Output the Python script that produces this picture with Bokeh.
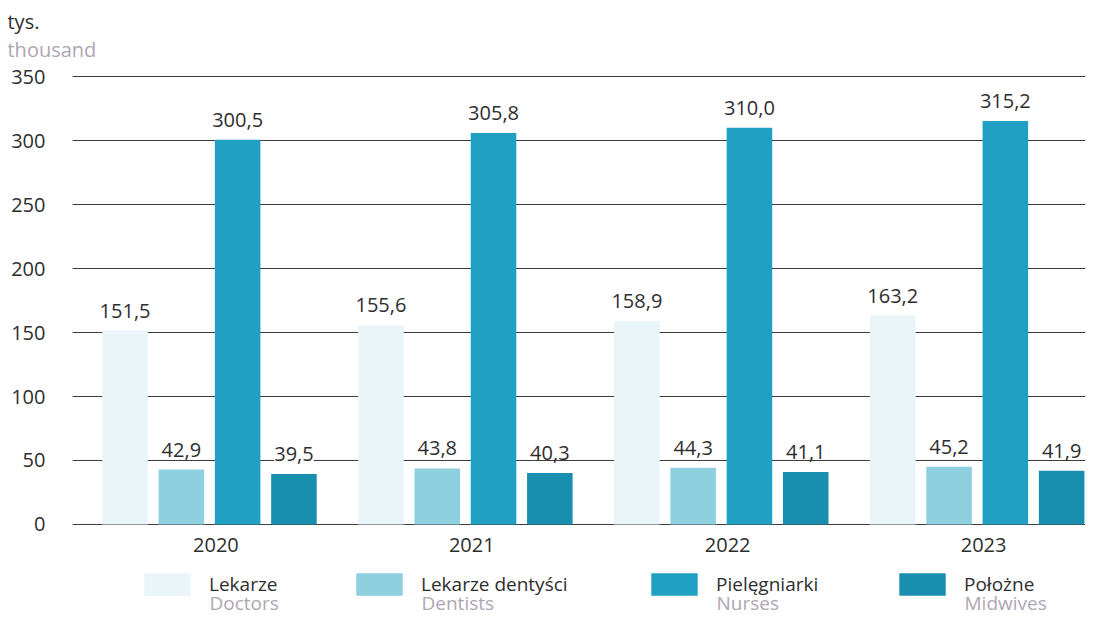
from bokeh.plotting import figure
from bokeh.models import (Range1d, FixedTicker, CustomJSTickFormatter, Legend,
                          LegendItem, Label, ColumnDataSource, LinearAxis)
from bokeh.core.properties import value
from bokeh.embed import file_html
from bokeh.resources import INLINE

# ---- data ----
years = ["2020", "2021", "2022", "2023"]
series_pl = ["Lekarze", "Lekarze dentyści", "Pielęgniarki", "Położne"]
series_en = ["Doctors", "Dentists", "Nurses", "Midwives"]
doctors = [151.5, 155.6, 158.9, 163.2]
dentists = [42.9, 43.8, 44.3, 45.2]
nurses = [300.5, 305.8, 310.0, 315.2]
midwives = [39.5, 40.3, 41.1, 41.9]
y_ticks = [0, 50, 100, 150, 200, 250, 300, 350]

# ---- style ----
FONT = "Open Sans"
FS = "20px"
LFS = "19px"
colors = ["#e9f5f8", "#8ecfe0", "#20a0c2", "#1a8eae"]
offsets = [-0.33, -0.11, 0.11, 0.33]
bar_w = 0.178
dark = "#2e2e2e"
light = "#b0a6b3"
AXIS_X = -0.512      # where the value axis sits (data units)
GRID_X0 = -0.535
X_END = 3.4232

p = figure(width=1085, height=618,
           x_range=Range1d(-0.8167, X_END), y_range=Range1d(-73.44, 409.38),
           output_backend="svg", toolbar_location=None,
           x_axis_location=None, y_axis_location=None,
           min_border_left=0, min_border_right=0,
           min_border_top=0, min_border_bottom=0)
p.outline_line_color = None
p.xgrid.grid_line_color = None
p.ygrid.grid_line_color = None

# horizontal grid lines at the value ticks
p.segment(x0=GRID_X0, x1=X_END, y0=y_ticks, y1=y_ticks,
          line_color="#3c3c3c", line_width=1)

all_series = [doctors, dentists, nurses, midwives]
idx = list(range(len(years)))
renderers = []
for s, (vals, col, off) in enumerate(zip(all_series, colors, offsets)):
    src = ColumnDataSource(dict(
        x=[i + off for i in idx],
        top=vals,
        lbl=[f"{v:.1f}".replace(".", ",") for v in vals],
    ))
    r = p.vbar(x="x", top="top", width=bar_w, source=src,
               fill_color=col, line_color=None)
    renderers.append(r)
    p.text(x="x", y="top", text="lbl", source=src,
           text_align="center", text_baseline="alphabetic", y_offset=-20,
           text_font=value(FONT), text_font_size=FS, text_color=dark,
           background_fill_color="white")

# value axis
yax = LinearAxis(fixed_location=AXIS_X, ticker=FixedTicker(ticks=y_ticks))
yax.axis_line_color = None
yax.major_tick_line_color = None
yax.minor_tick_line_color = None
yax.major_tick_out = 0
yax.major_tick_in = 0
yax.major_label_standoff = 33
yax.major_label_text_font = FONT
yax.major_label_text_font_size = FS
yax.major_label_text_color = dark
p.add_layout(yax, "left")

# category axis
xax = LinearAxis(fixed_location=0, ticker=FixedTicker(ticks=[i + 0.025 for i in idx]))
xax.formatter = CustomJSTickFormatter(args=dict(years=years),
                                      code="return years[Math.round(tick)];")
xax.axis_line_color = None
xax.major_tick_line_color = None
xax.minor_tick_line_color = None
xax.major_tick_out = 0
xax.major_tick_in = 0
xax.major_label_standoff = 14
xax.major_label_text_font = FONT
xax.major_label_text_font_size = FS
xax.major_label_text_color = dark
p.add_layout(xax, "below")

# unit labels
p.add_layout(Label(x=-0.7894, y=392.9, text="tys.", text_font=FONT,
                   text_font_size=FS, text_color=dark,
                   text_baseline="alphabetic"))
p.add_layout(Label(x=-0.7894, y=371.1, text="thousand", text_font=FONT,
                   text_font_size=FS, text_color=light,
                   text_baseline="alphabetic"))

# legend: one small legend per series, placed along the bottom
leg_x = [138, 350, 645, 893]
for name, r, lx in zip(series_pl, renderers, leg_x):
    lg = Legend(items=[LegendItem(label=name, renderers=[r])],
                orientation="horizontal", location=(lx, 20),
                glyph_width=58, glyph_height=28, label_standoff=13,
                padding=0, margin=0, spacing=0,
                label_text_font=FONT, label_text_font_size=LFS,
                label_text_color=dark,
                border_line_color=None, background_fill_alpha=0)
    p.add_layout(lg)

en_x = [0.0, 0.8285, 1.9812, 2.9504]
for name, xx in zip(series_en, en_x):
    p.add_layout(Label(x=xx, y=-61.7, text=name, text_font=FONT,
                       text_font_size=LFS, text_color=light,
                       text_baseline="alphabetic"))

open("out.html", "w").write(file_html(p, INLINE))
